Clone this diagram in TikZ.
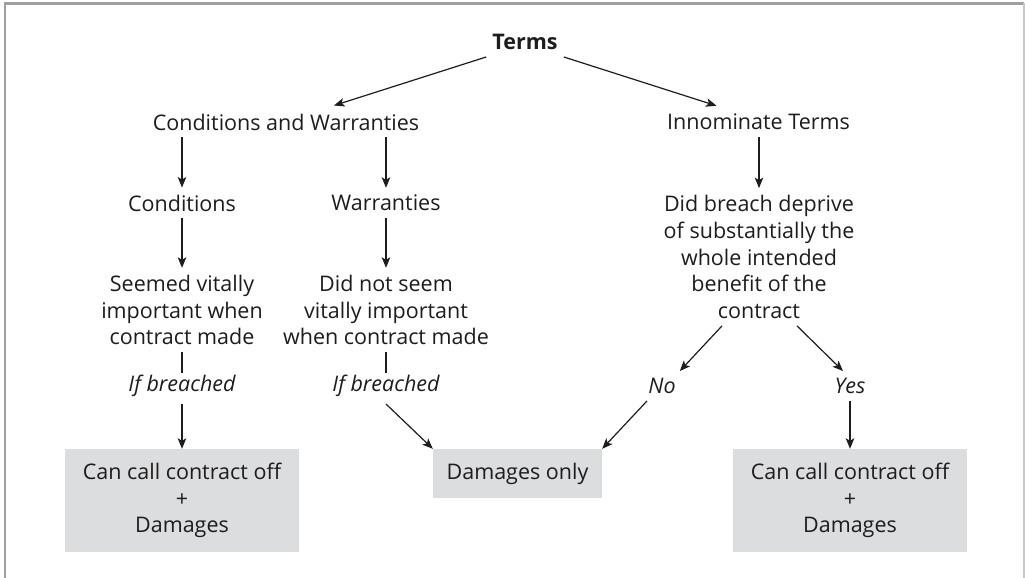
\documentclass[tikz,border=0pt]{standalone}
\usepackage{fontspec}
\setmainfont{Open Sans}
\usetikzlibrary{arrows.meta,calc}
\definecolor{boxgray}{RGB}{220,221,223}
\definecolor{framegray}{RGB}{160,160,160}
\definecolor{framelight}{RGB}{200,200,200}
\definecolor{ink}{RGB}{30,28,28}
\newcommand{\fsz}{\fontsize{21.5}{26.7}\selectfont}
\begin{document}
\begin{tikzpicture}[x=1pt,y=-1pt,
  every node/.style={font=\fsz, text=ink},
  lbl/.style={inner xsep=4pt, inner ysep=7pt, align=center},
  itl/.style={lbl, font=\fsz\itshape},
  outcome/.style={fill=boxgray, inner sep=0pt, align=center},
  arr/.style={draw=ink, line width=1.2pt, -{Stealth[length=10.5pt,width=8.5pt,inset=2.5pt]}},
  ln/.style={draw=ink, line width=1.2pt}]
\useasboundingbox (0,0) rectangle (1025,578);
% frame
\draw[framegray, line width=2.5pt] (5,578) -- (5,3.5) -- (1024,3.5);
\draw[framelight, line width=1.5pt] (1024,3.5) -- (1024,578);
% nodes
\node[lbl, font=\fsz\bfseries] (terms) at (525,42) {Terms};
\node[lbl] (cw) at (286,122) {Conditions and Warranties};
\node[lbl] (inn) at (758.5,122) {Innominate Terms};
\node[lbl] (cond) at (182,203) {Conditions};
\node[lbl] (warr) at (386,203) {Warranties};
\node[lbl] (seem) at (182,310) {Seemed vitally\\important when\\contract made};
\node[lbl] (notseem) at (386,310) {Did not seem\\vitally important\\when contract made};
\node[lbl] (did) at (759,257) {Did breach deprive\\of substantially the\\whole intended\\benefit of the\\contract};
\node[itl] (ifb1) at (182,386) {If breached};
\node[itl] (ifb2) at (386,386) {If breached};
\node[itl] (no) at (662,386) {No};
\node[itl] (yes) at (850,386) {Yes};
\node[outcome, minimum width=234pt, minimum height=103pt] (box1) at (182,500.5) {Can call contract off\\+\\Damages};
\node[outcome, minimum width=169pt, minimum height=49pt] (box2) at (517.5,473.5) {Damages only};
\node[outcome, minimum width=234pt, minimum height=103pt] (box3) at (850,500.5) {Can call contract off\\+\\Damages};
% connectors
\draw[arr] ([xshift=-2pt]terms.south west) -- ([xshift=48pt,yshift=1pt]cw.north);
\draw[arr] ([xshift=2pt]terms.south east) -- ([xshift=-42pt,yshift=1pt]inn.north);
\draw[arr] (cw.south -| cond.north) -- (cond.north);
\draw[arr] (cw.south -| warr.north) -- (warr.north);
\draw[arr] (inn.south -| did.north) -- (did.north);
\draw[arr] (cond) -- (seem);
\draw[arr] (warr) -- (notseem);
\draw[ln] (seem.south) -- ([yshift=-5pt]ifb1.north);
\draw[ln] (notseem.south) -- ([yshift=-5pt]ifb2.north);
\draw[arr] (ifb1.south) -- (box1.north);
\draw[arr] (ifb2.south) -- (box2.north west);
\draw[arr] ([xshift=-37pt]did.south) -- (no.north east);
\draw[arr] ([xshift=38pt]did.south) -- ([xshift=-7pt]yes.north);
\draw[arr] ([xshift=-15pt]no.south) -- (box2.north east);
\draw[arr] (yes.south) -- (box3.north);
\end{tikzpicture}
\end{document}
